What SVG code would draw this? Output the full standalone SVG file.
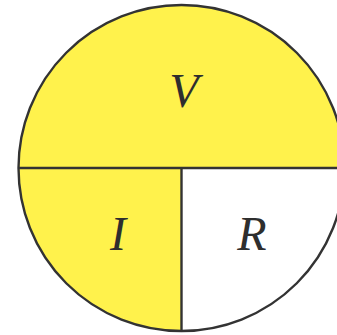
<svg xmlns="http://www.w3.org/2000/svg" width="337" height="335" viewBox="0 0 337 335">
<style>
.t{font-family:"Liberation Serif","Times New Roman",serif;font-style:italic;font-size:48px;fill:#2e2e2e;text-anchor:middle}
.s{stroke:#333;stroke-width:2.4;fill:none}
</style>
<rect width="337" height="335" fill="#fff"/>
<g id="V"><path d="M18.5,168 A163,163 0 0 1 344.5,168 Z" fill="#fff24c"/><text class="t" x="184" y="107">V</text></g>
<g id="I"><path d="M181.5,168 L18.5,168 A163,163 0 0 0 181.5,331 Z" fill="#fff24c"/><text class="t" x="118" y="250">I</text></g>
<g id="R"><path d="M181.5,168 L344.5,168 A163,163 0 0 1 181.5,331 Z" fill="#fff"/><text class="t" x="252" y="250">R</text></g>
<g id="connectors">
<circle class="s" cx="181.5" cy="168" r="163"/>
<line class="s" x1="18.5" y1="168" x2="344.5" y2="168"/>
<line class="s" x1="181.5" y1="168" x2="181.5" y2="331"/>
</g>
</svg>
